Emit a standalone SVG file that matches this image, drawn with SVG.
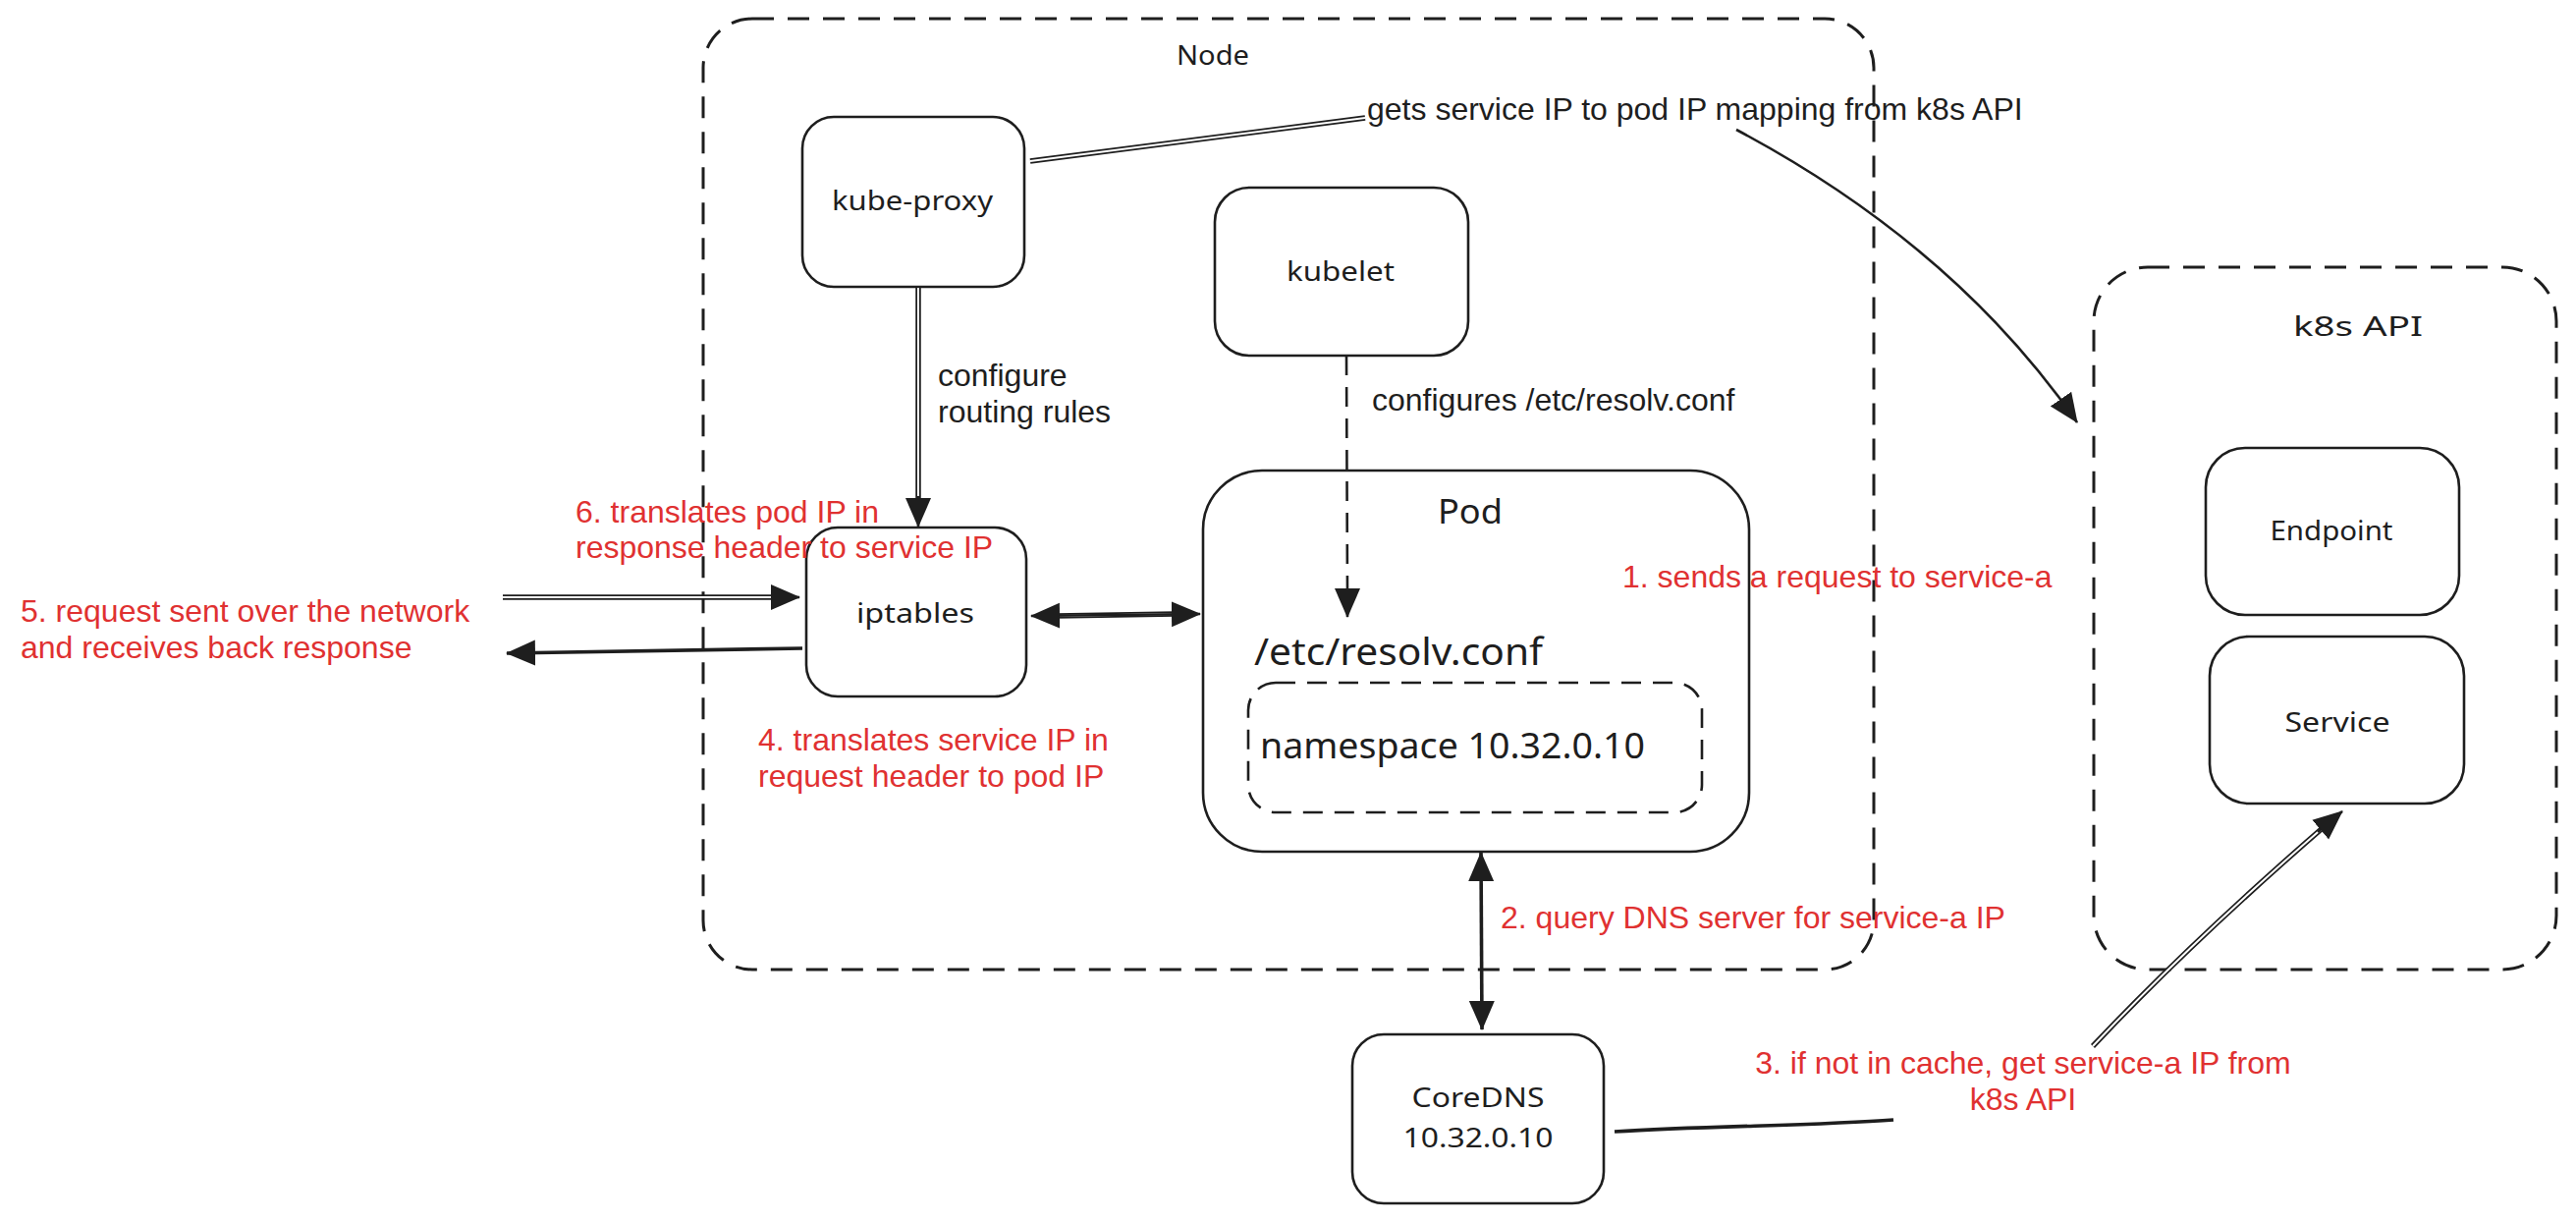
<svg xmlns="http://www.w3.org/2000/svg" width="2623" height="1244" viewBox="0 0 2623 1244">
<style>
.box{fill:none;stroke:#1e1e1e;stroke-width:2.6}
.dash{fill:none;stroke:#1e1e1e;stroke-width:3;stroke-dasharray:22 14}
.dash2{fill:none;stroke:#1e1e1e;stroke-width:2.6;stroke-dasharray:20 12}
.hw{font-family:"Noto Sans","Liberation Sans",sans-serif;fill:#1e1e1e;text-anchor:middle}
.lbl{font-family:"Liberation Sans",Arial,sans-serif;font-size:32px;fill:#1e1e1e}
.red{font-family:"Liberation Sans",Arial,sans-serif;font-size:32px;fill:#e03131}
.ln{fill:none;stroke:#1e1e1e;stroke-width:2.6}
.dbl{fill:none;stroke:#1e1e1e;stroke-width:5.5}
.dblw{fill:none;stroke:#ffffff;stroke-width:2}
.thick{fill:none;stroke:#1e1e1e;stroke-width:3.6}
</style>
<defs>
<marker id="ah" viewBox="0 0 30 28" refX="29" refY="14" markerWidth="30" markerHeight="28" markerUnits="userSpaceOnUse" orient="auto-start-reverse">
<path d="M0,1 L30,14 L0,27 Z" fill="#1e1e1e"/>
</marker>
</defs>
<rect x="0" y="0" width="2623" height="1244" fill="#ffffff"/>

<g id="node-container">
<rect class="dash" x="716" y="19" width="1192" height="968" rx="50"/>
<text class="hw" x="1235" y="66" font-size="28" textLength="74" lengthAdjust="spacingAndGlyphs">Node</text>
</g>
<g id="k8s-api">
<rect class="dash" x="2132" y="272" width="471" height="715" rx="55"/>
<text class="hw" x="2401" y="342" font-size="28" textLength="132" lengthAdjust="spacingAndGlyphs">k8s API</text>
</g>
<g id="kube-proxy">
<rect class="box" x="817" y="119" width="226" height="173" rx="32"/>
<text class="hw" x="929" y="214" font-size="28" textLength="164" lengthAdjust="spacingAndGlyphs">kube-proxy</text>
</g>
<g id="kubelet">
<rect class="box" x="1237" y="191" width="258" height="171" rx="35"/>
<text class="hw" x="1365" y="286" font-size="28" textLength="110" lengthAdjust="spacingAndGlyphs">kubelet</text>
</g>
<g id="pod">
<rect class="box" x="1225" y="479" width="556" height="388" rx="60"/>
<text class="hw" x="1497" y="533" font-size="34" textLength="66" lengthAdjust="spacingAndGlyphs">Pod</text>
<text class="hw" x="1424" y="677" font-size="38" textLength="294" lengthAdjust="spacingAndGlyphs">/etc/resolv.conf</text>
</g>
<g id="resolv-conf">
<rect class="dash2" x="1271" y="695" width="462" height="132" rx="28"/>
<text class="hw" x="1479" y="772" font-size="36" textLength="392" lengthAdjust="spacingAndGlyphs">namespace 10.32.0.10</text>
</g>
<g id="iptables">
<rect class="box" x="821" y="537" width="224" height="172" rx="32"/>
<text class="hw" x="932" y="634" font-size="28" textLength="120" lengthAdjust="spacingAndGlyphs">iptables</text>
</g>
<g id="coredns">
<rect class="box" x="1377" y="1053" width="256" height="172" rx="32"/>
<text class="hw" x="1505" y="1127" font-size="28" textLength="135" lengthAdjust="spacingAndGlyphs">CoreDNS</text>
<text class="hw" x="1505" y="1168" font-size="28" textLength="153" lengthAdjust="spacingAndGlyphs">10.32.0.10</text>
</g>
<g id="endpoint">
<rect class="box" x="2246" y="456" width="258" height="170" rx="40"/>
<text class="hw" x="2374" y="550" font-size="28" textLength="125" lengthAdjust="spacingAndGlyphs">Endpoint</text>
</g>
<g id="service">
<rect class="box" x="2250" y="648" width="259" height="170" rx="40"/>
<text class="hw" x="2380" y="745" font-size="28" textLength="107" lengthAdjust="spacingAndGlyphs">Service</text>
</g>

<g id="connectors">
<!-- kube-proxy to label -->
<path class="dbl" d="M1049,164 L1390,120"/>
<path class="dblw" d="M1049,164 L1390,120"/>
<!-- label to k8s API -->
<path class="ln" d="M1768,132 Q1990,250 2115,430" marker-end="url(#ah)"/>
<!-- kube-proxy to iptables -->
<path class="dbl" d="M935,293 L935,510"/>
<path class="dblw" d="M935,293 L935,510"/>
<path class="ln" d="M935,505 L935,536" marker-end="url(#ah)"/>
<!-- kubelet to pod resolv.conf -->
<path class="dash2" d="M1371,362 L1372,605"/>
<path class="ln" d="M1372,600 L1372,628" marker-end="url(#ah)" stroke-width="0"/>
<!-- iptables <-> pod -->
<path class="dbl" d="M1075,627 L1197,625"/>
<path class="dblw" d="M1075,627 L1197,625"/>
<path class="ln" d="M1050,627 L1222,625" marker-start="url(#ah)" marker-end="url(#ah)" stroke-width="0"/>
<!-- incoming request -->
<path class="dbl" d="M512,608 L790,608"/>
<path class="dblw" d="M512,608 L790,608"/>
<path class="ln" d="M785,608 L814,608" marker-end="url(#ah)"/>
<!-- outgoing response -->
<path class="thick" d="M817,660 L516,665" marker-end="url(#ah)"/>
<!-- pod <-> coredns -->
<path class="thick" d="M1508,868 L1509,1048" marker-start="url(#ah)" marker-end="url(#ah)"/>
<!-- coredns to label -->
<path class="thick" d="M1644,1152 C1740,1146 1850,1146 1928,1140"/>
<!-- label to service -->
<path class="dbl" d="M2131,1065 Q2230,960 2366,842"/>
<path class="dblw" d="M2131,1065 Q2230,960 2366,842"/>
<path class="ln" d="M2360,847 L2385,826" marker-end="url(#ah)"/>
</g>

<g id="labels">
<text class="lbl" x="1392" y="122">gets service IP to pod IP mapping from k8s API</text>
<text class="lbl" x="955" y="393">configure</text>
<text class="lbl" x="955" y="430">routing rules</text>
<text class="lbl" x="1397" y="418">configures /etc/resolv.conf</text>
<text class="red" x="1652" y="598">1. sends a request to service-a</text>
<text class="red" x="586" y="532">6. translates pod IP in</text>
<text class="red" x="586" y="568">response header to service IP</text>
<text class="red" x="21" y="633">5. request sent over the network</text>
<text class="red" x="21" y="670">and receives back response</text>
<text class="red" x="772" y="764">4. translates service IP in</text>
<text class="red" x="772" y="801">request header to pod IP</text>
<text class="red" x="1528" y="945">2. query DNS server for service-a IP</text>
<text class="red" x="2060" y="1093" text-anchor="middle">3. if not in cache, get service-a IP from</text>
<text class="red" x="2060" y="1130" text-anchor="middle">k8s API</text>
</g>
</svg>
